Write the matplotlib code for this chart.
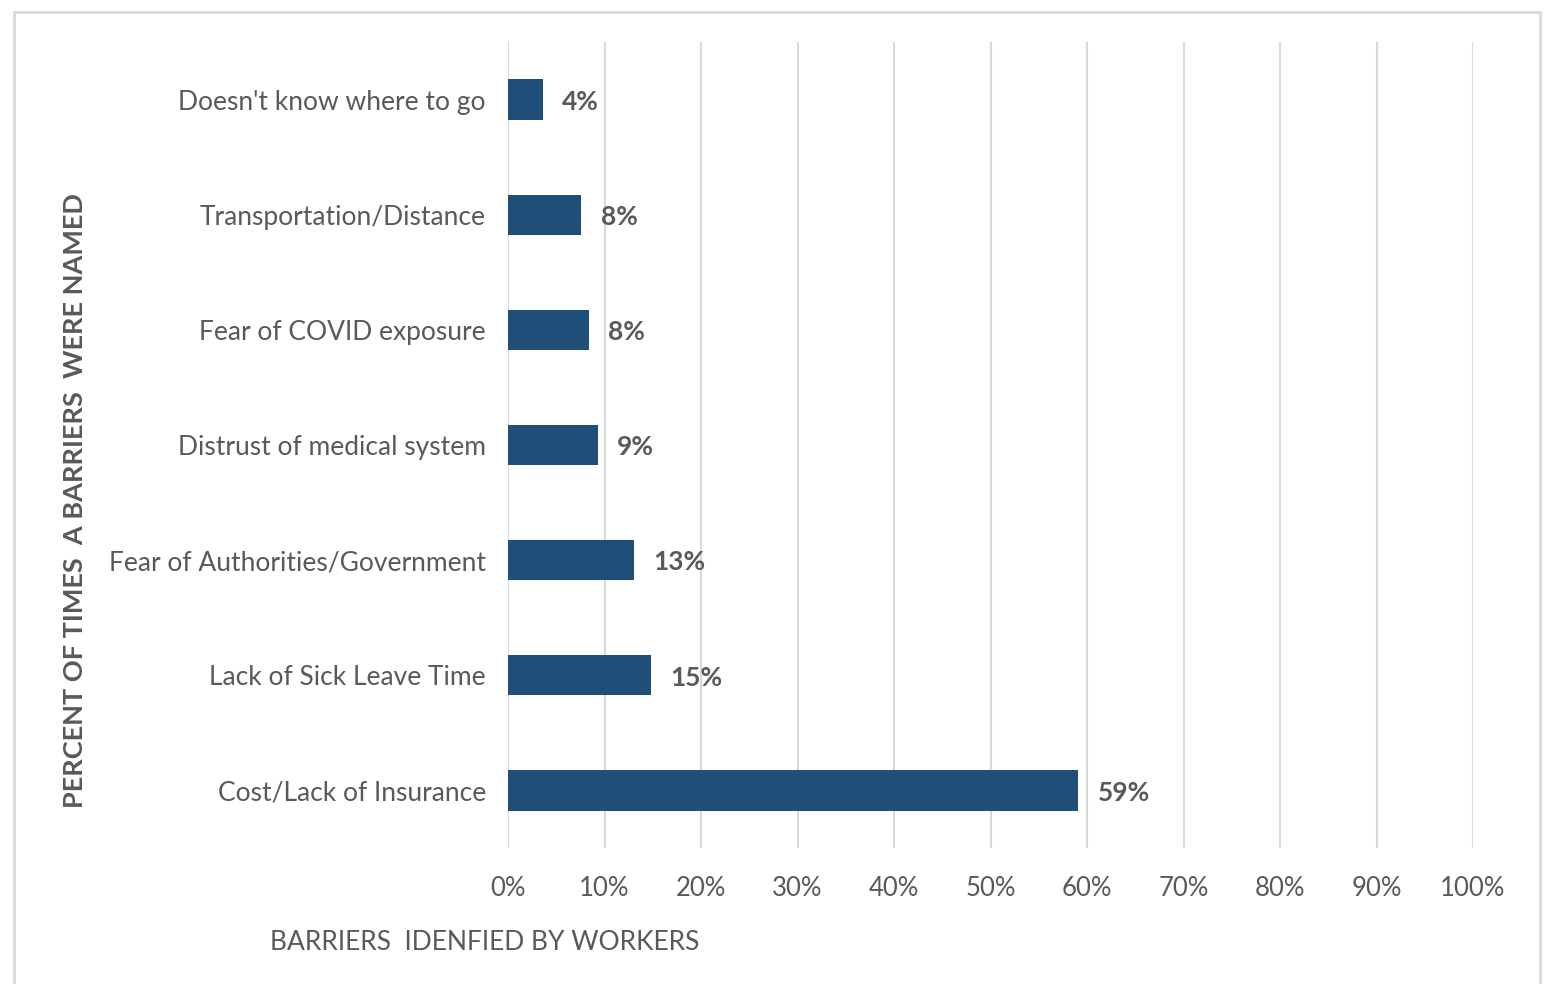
import matplotlib.pyplot as plt
from matplotlib.patches import Rectangle

# barriers, bottom to top as drawn
barriers = ['Cost/Lack of Insurance', 'Lack of Sick Leave Time',
            'Fear of Authorities/Government', 'Distrust of medical system',
            'Fear of COVID exposure', 'Transportation/Distance',
            "Doesn't know where to go"]
percent = [59.1, 14.8, 13.1, 9.3, 8.4, 7.6, 3.6]
xticks = list(range(0, 101, 10))

bar_color = '#1F4E79'
text_color = '#595959'
plt.rcParams['font.family'] = ['Lato', 'DejaVu Sans']

fig = plt.figure(figsize=(15.44, 9.84), dpi=100)
fig.patches.append(Rectangle((14 / 1544, -0.01), 1526 / 1544, 0.004 + 978 / 984,
                             transform=fig.transFigure, fill=False,
                             edgecolor='#d9d9d9', lw=2))

ax = fig.add_axes([508 / 1544, 136 / 984, 965 / 1544, 806 / 984])
pos = range(len(barriers))
ax.barh(pos, percent, height=0.35, color=bar_color)
for y, v in zip(pos, percent):
    ax.text(v + 2.0, y - 0.02, '%d%%' % round(v), va='center', ha='left',
            fontsize=19, fontweight='bold', color=text_color)

ax.set_xlim(0, 100)
ax.set_ylim(-0.5, len(barriers) - 0.5)
ax.set_xticks(xticks)
ax.set_xticklabels(['%d%%' % t for t in xticks], fontsize=18.5, color=text_color)
ax.set_yticks(list(pos))
ax.set_yticklabels(barriers, fontsize=19, color=text_color)
ax.tick_params(axis='both', length=0)
ax.tick_params(axis='x', pad=20)
ax.tick_params(axis='y', pad=16)
ax.grid(axis='x', color='#d9d9d9', lw=1.5)
ax.set_axisbelow(True)
for s in ax.spines.values():
    s.set_visible(False)

fig.text(75 / 1544, 1 - 501 / 984, 'PERCENT OF TIMES  A BARRIERS  WERE NAMED',
         rotation=90, ha='center', va='center', fontsize=19.5,
         fontweight='bold', color=text_color)
fig.text(485 / 1544, 1 - 943 / 984, 'BARRIERS  IDENFIED BY WORKERS',
         ha='center', va='center', fontsize=19, color=text_color)

fig.savefig('out.png', dpi=100)
